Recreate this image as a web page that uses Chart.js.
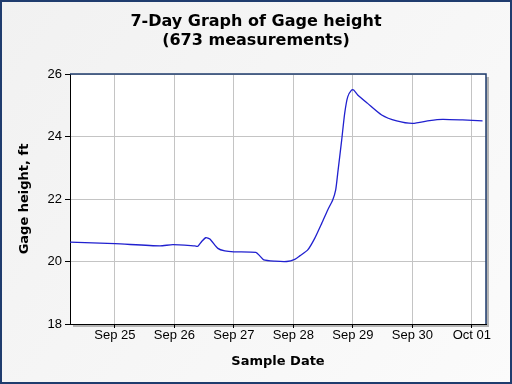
<!DOCTYPE html>
<html>
<head>
<meta charset="utf-8">
<script src="https://cdn.jsdelivr.net/npm/chart.js@4"></script>
<style>
    html, body { margin: 0; padding: 0; background: #f4f4f4; }
    #wrap { width: 512px; height: 384px; position: relative; }
</style>
</head>
<body>
<div id="wrap"><canvas id="gageChart" width="512" height="384"></canvas></div>
<script>
// Time in days since Sep 24 00:00
const sampleDays = [0.244, 1.0, 1.756, 1.974, 2.343, 2.394, 2.461, 2.528, 2.595, 2.730, 2.847, 2.998, 3.368, 3.435, 3.502, 3.687, 3.888, 4.023, 4.107, 4.241, 4.358, 4.476, 4.577, 4.661, 4.711, 4.745, 4.812, 4.862, 4.913, 4.980, 5.013, 5.081, 5.248, 5.484, 5.736, 6.005, 6.290, 6.508, 6.844, 7.180];
const gageHeights = [20.62, 20.57, 20.50, 20.54, 20.50, 20.49, 20.65, 20.76, 20.72, 20.42, 20.34, 20.31, 20.29, 20.18, 20.05, 20.01, 20.00, 20.07, 20.18, 20.37, 20.74, 21.22, 21.65, 21.97, 22.29, 22.82, 23.89, 24.74, 25.27, 25.49, 25.49, 25.33, 25.06, 24.69, 24.50, 24.42, 24.51, 24.55, 24.53, 24.50];
const tickDays = [1, 2, 3, 4, 5, 6, 7];
const tickLabels = ['Sep 25', 'Sep 26', 'Sep 27', 'Sep 28', 'Sep 29', 'Sep 30', 'Oct 01'];
const yTicks = [18, 20, 22, 24, 26];

const points = sampleDays.map((d, i) => ({ x: d, y: gageHeights[i] }));

const frameColor = '#1f3c6e';

// Background, outer frame and plot box with shadow
const framePlugin = {
    id: 'framePlugin',
    beforeDraw(chart) {
        const ctx = chart.ctx;
        const a = chart.chartArea;
        ctx.save();
        const g = ctx.createLinearGradient(0, 0, 512, 384);
        g.addColorStop(0, '#f1f1f1');
        g.addColorStop(1, '#fbfbfb');
        ctx.fillStyle = g;
        ctx.fillRect(0, 0, chart.width, chart.height);
        // shadow
        ctx.fillStyle = '#b4b4b4';
        ctx.fillRect(a.left + 3, a.top + 3, a.right - a.left, a.bottom - a.top);
        ctx.fillStyle = '#ffffff';
        ctx.fillRect(a.left, a.top, a.right - a.left, a.bottom - a.top);
        ctx.restore();
    },
    afterDraw(chart) {
        const ctx = chart.ctx;
        const a = chart.chartArea;
        ctx.save();
        ctx.strokeStyle = frameColor;
        ctx.lineWidth = 1.5;
        ctx.beginPath();
        ctx.moveTo(a.left, a.top);
        ctx.lineTo(a.right, a.top);
        ctx.lineTo(a.right, a.bottom);
        ctx.stroke();
        ctx.lineWidth = 2;
        ctx.strokeRect(1, 1, chart.width - 2, chart.height - 2);
        ctx.restore();
    }
};

const ctx = document.getElementById('gageChart').getContext('2d');
const gageChart = new Chart(ctx, {
    type: 'line',
    data: {
        datasets: [{
            label: 'Gage height',
            data: points,
            borderColor: '#2020cf',
            borderWidth: 1.3,
            pointRadius: 0,
            tension: 0.2,
            fill: false
        }]
    },
    options: {
        responsive: false,
        animation: false,
        layout: { padding: { left: 26, right: 26, top: 0, bottom: 10 } },
        plugins: {
            legend: { display: false },
            tooltip: { enabled: false },
            title: {
                display: true,
                text: ['7-Day Graph of Gage height', '(673 measurements)'],
                color: '#000',
                font: { family: 'DejaVu Sans', size: 16, weight: 'bold', lineHeight: 1.2 },
                padding: { top: 12.4, bottom: 23.2 }
            }
        },
        scales: {
            x: {
                type: 'linear',
                min: 0.244,
                max: 7.238,
                afterFit: function(scale) { scale.height = 50; },
                afterBuildTicks: function(scale) {
                    scale.ticks = tickDays.map(v => ({ value: v }));
                },
                ticks: {
                    color: '#000',
                    padding: 0,
                    autoSkip: false,
                    maxRotation: 0,
                    font: { family: 'Liberation Sans', size: 13 },
                    callback: function(value) {
                        const i = tickDays.indexOf(value);
                        return i >= 0 ? tickLabels[i] : '';
                    }
                },
                grid: { color: '#c4c4c4', tickColor: '#000', tickLength: 4, lineWidth: 1 },
                border: { color: '#000', width: 1 },
                title: {
                    display: true,
                    text: 'Sample Date',
                    color: '#000',
                    font: { family: 'DejaVu Sans', size: 13, weight: 'bold', lineHeight: 1.2 },
                    padding: { top: 0, bottom: 4.2 }
                }
            },
            y: {
                min: 18,
                max: 26,
                afterFit: function(scale) { scale.width = 44; },
                afterBuildTicks: function(scale) {
                    scale.ticks = yTicks.map(v => ({ value: v }));
                },
                ticks: {
                    color: '#000',
                    padding: 3,
                    font: { family: 'Liberation Sans', size: 13 }
                },
                grid: { color: '#c4c4c4', tickColor: '#000', tickLength: 5, lineWidth: 1 },
                border: { color: '#000', width: 1 },
                title: {
                    display: true,
                    text: 'Gage height, ft',
                    color: '#000',
                    font: { family: 'DejaVu Sans', size: 13, weight: 'bold', lineHeight: 1.2 },
                    padding: { top: -8.8, bottom: 0 }
                }
            }
        }
    },
    plugins: [framePlugin]
});
</script>
</body>
</html>
